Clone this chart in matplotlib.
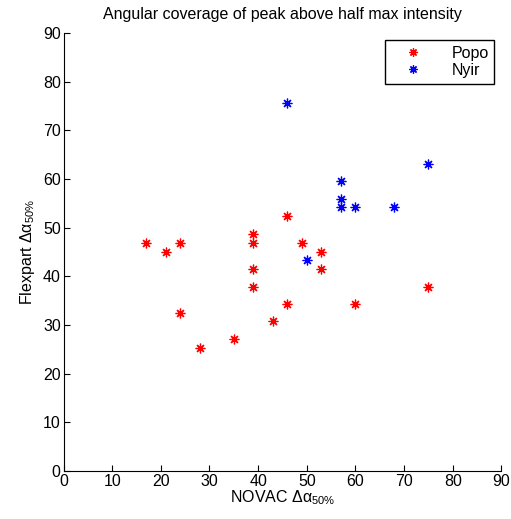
import matplotlib
matplotlib.use("Agg")
import matplotlib.pyplot as plt

plt.rcParams['font.family'] = ['Liberation Sans', 'DejaVu Sans']
plt.rcParams['mathtext.fontset'] = 'custom'
plt.rcParams['mathtext.rm'] = 'Liberation Sans'
plt.rcParams['mathtext.it'] = 'Liberation Sans'

popo_x = [17, 21, 24, 24, 28, 35, 39, 39, 39, 39, 43, 46, 49, 53, 53, 75, 46, 60]
popo_y = [46.9, 45.1, 46.9, 32.5, 25.3, 27.1, 48.7, 46.9, 41.5, 37.9, 30.8, 52.3, 46.9, 45.1, 41.5, 37.9, 34.3, 34.3]
nyir_x = [46, 75, 57, 57, 57, 60, 68, 50]
nyir_y = [75.7, 63.1, 59.5, 55.9, 54.2, 54.2, 54.2, 43.3]
ticks = [0, 10, 20, 30, 40, 50, 60, 70, 80, 90]

fs = 11.5
fig = plt.figure(figsize=(5.11, 5.19), dpi=100)
ax = fig.add_axes([0.1243, 0.0925, 0.857, 0.8439])
star = (8, 2, 0)
ax.plot(popo_x, popo_y, linestyle='none', marker=star, color='red',
        markersize=7, markeredgewidth=0.9, label='Popo')
ax.plot(nyir_x, nyir_y, linestyle='none', marker=star, color='blue',
        markersize=7, markeredgewidth=0.9, label='Nyir')
ax.set_xlim(0, 90)
ax.set_ylim(0, 90)
ax.set_xticks(ticks)
ax.set_yticks(ticks)
ax.spines['top'].set_visible(False)
ax.spines['right'].set_visible(False)
ax.tick_params(direction='in', length=4, labelsize=fs, width=0.8, pad=2)
ax.set_title('Angular coverage of peak above half max intensity', fontsize=fs, pad=10)
ax.set_xlabel('NOVAC Δα$_{50\\%}$', fontsize=fs, labelpad=0)
ax.set_ylabel('Flexpart Δα$_{50\\%}$', fontsize=fs, labelpad=4)
leg = ax.legend(loc='upper right', bbox_to_anchor=(0.984, 0.984), fontsize=fs,
                fancybox=False, edgecolor='black', framealpha=1,
                handlelength=2.8, handletextpad=1.0, borderpad=0.35,
                labelspacing=0.15, borderaxespad=0, markerscale=0.85)
leg.get_frame().set_linewidth(1.0)
fig.savefig('out.png', dpi=100)
